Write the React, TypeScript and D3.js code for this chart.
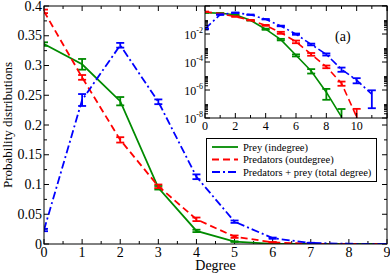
import React from "react";
import * as d3 from "d3";

// degree distributions (index = degree)
const preyVals = [0.336, 0.302, 0.24, 0.0945, 0.022, 0.004, 3e-4, 2.3e-5, 7e-7, 1.2e-8];
const preyErr = [0.003, 0.009, 0.007, 0.003, 0.002, 5e-4, 5e-5, 8e-6, 5e-7, 3.2e-8];
const predVals = [0.391, 0.28, 0.175, 0.097, 0.0415, 0.0123, 0.0028, 3.6e-4, 4.6e-5, 3e-6, 1.2e-8];
const predErr = [0.003, 0.004, 0.0045, 0.003, 0.003, 0.002, 6e-4, 8e-5, 1e-5, 1e-6, 3.3e-8];
const totalVals = [0.0235, 0.242, 0.334, 0.239, 0.113, 0.0375, 0.0098, 1.8e-3, 3.5e-4, 3e-5, 5e-6, 5e-7];
const totalErr = [0.002, 0.01, 0.004, 0.004, 0.004, 0.002, 0.001, 2.5e-4, 6e-5, 1e-5, 2e-6, 4.5e-7];

const mainXTicks = [0, 1, 2, 3, 4, 5, 6, 7, 8, 9];
const mainYTicks = [0, 0.05, 0.1, 0.15, 0.2, 0.25, 0.3, 0.35, 0.4];
const insetXTicks = [0, 2, 4, 6, 8, 10, 12];
const insetYExp = [-8, -6, -4, -2, 0];

const seriesList = [
  { name: "Prey (indegree)", vals: preyVals, err: preyErr, color: "#008b00", dash: "" },
  { name: "Predators (outdegree)", vals: predVals, err: predErr, color: "#ff0000", dash: "7,4" },
  { name: "Predators + prey (total degree)", vals: totalVals, err: totalErr, color: "#0000ff", dash: "8,3,2,3" },
];

const font = "Liberation Serif, Times New Roman, serif";

const M = { left: 44, right: 387, top: 6, bottom: 244 };
const I = { left: 205, right: 387, top: 6, bottom: 118 };

export default function App() {
  const x = d3.scaleLinear().domain([0, 9]).range([M.left, M.right]);
  const y = d3.scaleLinear().domain([0, 0.4]).range([M.bottom, M.top]);
  const ix = d3.scaleLinear().domain([0, 12]).range([I.left, I.right]);
  const iy = d3.scaleLog().domain([1e-8, 1]).range([I.bottom, I.top]);

  const minorX = d3.range(0, 9.01, 0.5);
  const minorY = d3.range(0, 0.401, 0.025);
  const insetMinorX = d3.range(0, 12.01, 1);
  const insetMinorY: number[] = [];
  [-8, -6, -4, -2].forEach((e) => {
    for (let d = 2; d <= 9; d++) insetMinorY.push(d * Math.pow(10, e));
  });

  const mainLine = d3
    .line<number>()
    .x((_, i) => x(i))
    .y((d) => y(d));
  const insetLine = d3
    .line<number>()
    .x((_, i) => ix(i))
    .y((d) => iy(Math.max(d, 1e-9)));

  const errBar = (cx: number, y1: number, y2: number, color: string, key: string) => (
    <g key={key} stroke={color} strokeWidth={1.8}>
      <line x1={cx} x2={cx} y1={y1} y2={y2} />
      <line x1={cx - 4} x2={cx + 4} y1={y1} y2={y1} />
      <line x1={cx - 4} x2={cx + 4} y1={y2} y2={y2} />
    </g>
  );

  return (
    <div style={{ position: "fixed", left: 0, top: 0 }}>
      <svg width={390} height={275} style={{ display: "block", background: "#fff", fontFamily: font }}>
        <defs>
          <clipPath id="mainClip">
            <rect x={M.left} y={M.top} width={M.right - M.left} height={M.bottom - M.top} />
          </clipPath>
          <clipPath id="insetClip">
            <rect x={I.left} y={I.top} width={I.right - I.left} height={I.bottom - I.top} />
          </clipPath>
        </defs>

        {/* main plot ticks */}
        <g stroke="#000" strokeWidth={1}>
          {minorX.map((v) => {
            const major = Number.isInteger(v);
            const len = major ? 5 : 3;
            return (
              <g key={"mx" + v}>
                <line x1={x(v)} x2={x(v)} y1={M.bottom} y2={M.bottom - len} />
                <line x1={x(v)} x2={x(v)} y1={M.top} y2={M.top + len} />
              </g>
            );
          })}
          {minorY.map((v, i) => {
            const len = i % 2 === 0 ? 5 : 3;
            return (
              <g key={"my" + i}>
                <line x1={M.left} x2={M.left + len} y1={y(v)} y2={y(v)} />
                <line x1={M.right} x2={M.right - len} y1={y(v)} y2={y(v)} />
              </g>
            );
          })}
        </g>
        <g fontSize={14} fill="#000">
          {mainXTicks.map((v) => (
            <text key={"xl" + v} x={x(v)} y={M.bottom + 13} textAnchor="middle">
              {v}
            </text>
          ))}
          {mainYTicks.map((v) => (
            <text key={"yl" + v} x={M.left - 2} y={y(v) + 4.5} textAnchor="end">
              {String(v)}
            </text>
          ))}
        </g>
        <text x={(M.left + M.right) / 2} y={270} textAnchor="middle" fontSize={14}>
          Degree
        </text>
        <text
          transform={`translate(12,${(M.top + M.bottom) / 2}) rotate(-90)`}
          textAnchor="middle"
          fontSize={13}
        >
          Probability distributions
        </text>

        {/* main series */}
        <g clipPath="url(#mainClip)">
          {seriesList.map((s) => (
            <g key={s.name}>
              <path d={mainLine(s.vals) || ""} fill="none" stroke={s.color} strokeWidth={1.8} strokeDasharray={s.dash} />
              {s.vals.map((v, i) =>
                errBar(x(i), y(v + s.err[i]), y(Math.max(v - s.err[i], 0)), s.color, s.name + i)
              )}
            </g>
          ))}
        </g>
        <rect x={M.left} y={M.top} width={M.right - M.left} height={M.bottom - M.top} fill="none" stroke="#000" strokeWidth={1} />

        {/* inset */}
        <rect x={I.left} y={I.top} width={I.right - I.left} height={I.bottom - I.top} fill="#fff" />
        <g clipPath="url(#insetClip)">
          {seriesList.map((s) => (
            <g key={"in" + s.name}>
              <path d={insetLine(s.vals) || ""} fill="none" stroke={s.color} strokeWidth={1.6} strokeDasharray={s.dash} />
              {s.vals.map((v, i) =>
                errBar(ix(i), iy(v + s.err[i]), iy(Math.max(v - s.err[i], 1e-9)), s.color, "in" + s.name + i)
              )}
            </g>
          ))}
        </g>
        <g stroke="#000" strokeWidth={1}>
          {insetMinorX.map((v) => {
            const len = v % 2 === 0 ? 5 : 3;
            return (
              <g key={"ix" + v}>
                <line x1={ix(v)} x2={ix(v)} y1={I.bottom} y2={I.bottom - len} />
                <line x1={ix(v)} x2={ix(v)} y1={I.top} y2={I.top + len} />
              </g>
            );
          })}
          {insetYExp.map((e) => {
            const yy = iy(Math.pow(10, e));
            return (
              <g key={"iy" + e}>
                <line x1={I.left} x2={I.left + 5} y1={yy} y2={yy} />
                <line x1={I.right} x2={I.right - 5} y1={yy} y2={yy} />
              </g>
            );
          })}
          {insetMinorY.map((v, i) => (
            <g key={"iym" + i}>
              <line x1={I.left} x2={I.left + 3} y1={iy(v)} y2={iy(v)} />
              <line x1={I.right} x2={I.right - 3} y1={iy(v)} y2={iy(v)} />
            </g>
          ))}
        </g>
        <rect x={I.left} y={I.top} width={I.right - I.left} height={I.bottom - I.top} fill="none" stroke="#000" strokeWidth={1} />
        <g fill="#000">
          {insetXTicks
            .filter((v) => v <= 10)
            .map((v) => (
              <text key={"ixl" + v} x={ix(v)} y={I.bottom + 12} textAnchor="middle" fontSize={12}>
                {v}
              </text>
            ))}
          {insetYExp
            .filter((e) => e < 0)
            .map((e) => (
              <text key={"iyl" + e} x={I.left - 2} y={iy(Math.pow(10, e)) + 5} textAnchor="end" fontSize={12}>
                10
                <tspan dy={-6} fontSize={8}>
                  {String(e)}
                </tspan>
              </text>
            ))}
        </g>
        <text x={335} y={41} fontSize={14}>
          (a)
        </text>

        {/* legend */}
        <rect x={206.5} y={138.5} width={170} height={43} fill="#fff" stroke="#000" strokeWidth={1} />
        {seriesList.map((s, i) => {
          const ly = 147 + i * 12.5;
          return (
            <g key={"lg" + s.name}>
              <line x1={212} x2={238} y1={ly} y2={ly} stroke={s.color} strokeWidth={1.8} strokeDasharray={s.dash} />
              <text x={243} y={ly + 3.5} fontSize={10.5}>
                {s.name}
              </text>
            </g>
          );
        })}
      </svg>
    </div>
  );
}
